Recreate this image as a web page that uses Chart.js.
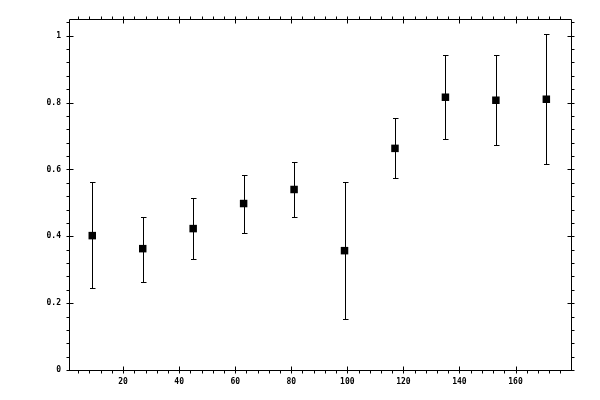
<!DOCTYPE html>
<html>
<head>
<meta charset="utf-8">
<script src="https://cdn.jsdelivr.net/npm/chart.js@4"></script>
<style>
html,body{margin:0;padding:0;background:#fff;}
canvas{display:block;}
</style>
</head>
<body>
<canvas id="c" width="600" height="400"></canvas>
<script>
const xValues = [9, 27, 45, 63, 81, 99, 117, 135, 153, 171];
const yValues = [0.402, 0.363, 0.423, 0.498, 0.540, 0.357, 0.663, 0.816, 0.807, 0.810];
const upperValues = [0.561, 0.459, 0.516, 0.583, 0.621, 0.561, 0.753, 0.943, 0.943, 1.005];
const lowerValues = [0.244, 0.264, 0.333, 0.411, 0.459, 0.154, 0.573, 0.691, 0.672, 0.615];
const xMajorStep = 20, xMinorStep = 4;
const yMajorStep = 0.2, yMinorStep = 0.04;

const points = xValues.map((x, i) => ({x: x, y: yValues[i]}));

const errorBars = {
  id: 'errorBars',
  beforeDatasetsDraw(chart) {
    const ctx = chart.ctx, xs = chart.scales.x, ys = chart.scales.y;
    ctx.save();
    ctx.strokeStyle = '#000';
    ctx.lineWidth = 1;
    xValues.forEach((x, i) => {
      const px = Math.round(xs.getPixelForValue(x)) + 0.5;
      const top = Math.round(ys.getPixelForValue(upperValues[i])) + 0.5;
      const bot = Math.round(ys.getPixelForValue(lowerValues[i])) + 0.5;
      ctx.beginPath();
      ctx.moveTo(px, top); ctx.lineTo(px, bot);
      ctx.moveTo(px - 2.5, top); ctx.lineTo(px + 3, top);
      ctx.moveTo(px - 2.5, bot); ctx.lineTo(px + 3, bot);
      ctx.stroke();
    });
    ctx.restore();
  }
};

const frame = {
  id: 'frame',
  afterDraw(chart) {
    const ctx = chart.ctx, a = chart.chartArea, xs = chart.scales.x, ys = chart.scales.y;
    const L = Math.round(a.left) + 0.5, R = Math.round(a.right) + 0.5;
    const T = Math.round(a.top) + 0.5, B = Math.round(a.bottom) + 0.5;
    ctx.save();
    ctx.strokeStyle = '#000';
    ctx.lineWidth = 1;
    ctx.beginPath();
    ctx.rect(L, T, R - L, B - T);
    const eps = 1e-6;
    for (let v = Math.ceil(xs.min / xMinorStep) * xMinorStep; v <= xs.max + eps; v += xMinorStep) {
      const p = Math.round(xs.getPixelForValue(v)) + 0.5;
      const major = Math.abs(v / xMajorStep - Math.round(v / xMajorStep)) < 1e-6;
      ctx.moveTo(p, B + 3); ctx.lineTo(p, major ? B - 4 : B);
      ctx.moveTo(p, T - 3); ctx.lineTo(p, major ? T + 4 : T);
    }
    for (let k = Math.ceil(ys.min / yMinorStep - eps); k * yMinorStep <= ys.max + eps; k++) {
      const v = k * yMinorStep;
      const p = Math.round(ys.getPixelForValue(v)) + 0.5;
      const major = k % 5 === 0;
      ctx.moveTo(L - 3, p); ctx.lineTo(major ? L + 4 : L, p);
      ctx.moveTo(R + 3, p); ctx.lineTo(major ? R - 4 : R, p);
    }
    ctx.stroke();
    ctx.restore();
  }
};

new Chart(document.getElementById('c'), {
  type: 'scatter',
  data: {
    datasets: [{
      data: points,
      pointStyle: 'rect',
      pointRadius: 5.3,
      pointHoverRadius: 5.3,
      borderWidth: 0,
      backgroundColor: '#000',
      borderColor: '#000'
    }]
  },
  options: {
    responsive: false,
    animation: false,
    devicePixelRatio: 1,
    layout: { padding: { left: 0, right: 29, top: 19, bottom: 0 } },
    plugins: { legend: { display: false }, tooltip: { enabled: false } },
    scales: {
      x: {
        type: 'linear',
        min: 0.7, max: 179.8,
        grid: { display: false, drawTicks: false },
        border: { display: false },
        ticks: {
          stepSize: xMajorStep,
          includeBounds: false,
          maxRotation: 0,
          padding: 7,
          color: '#000',
          font: { family: 'DejaVu Sans Mono', size: 8, weight: 'bold' }
        },
        afterFit(s) { s.height = 30; }
      },
      y: {
        type: 'linear',
        min: 0, max: 1.05,
        grid: { display: false, drawTicks: false },
        border: { display: false },
        ticks: {
          stepSize: yMajorStep,
          includeBounds: false,
          padding: 8,
          color: '#000',
          font: { family: 'DejaVu Sans Mono', size: 8, weight: 'bold' },
          callback: (v) => String(Math.round(v * 10) / 10)
        },
        afterFit(s) { s.width = 69; }
      }
    }
  },
  plugins: [errorBars, frame]
});
</script>
</body>
</html>
